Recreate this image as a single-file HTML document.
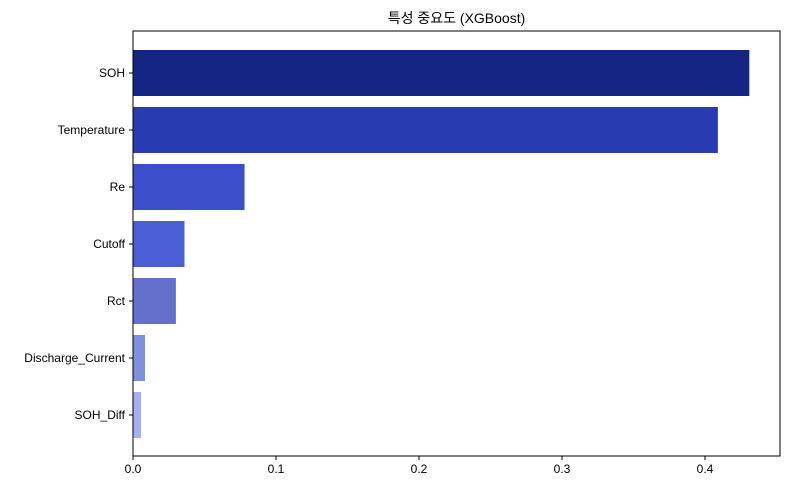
<!DOCTYPE html>
<html><head><meta charset="utf-8"><style>
body{margin:0;background:#fff;}
svg{font-family:"Liberation Sans","Noto Sans CJK KR",sans-serif;}
</style></head><body>
<svg id="chart" width="790" height="489" xmlns="http://www.w3.org/2000/svg"></svg>
<script>
const categories = ["SOH","Temperature","Re","Cutoff","Rct","Discharge_Current","SOH_Diff"];
const importances = [0.431,0.409,0.078,0.036,0.030,0.0084,0.0056];
const barColors = ["#142584","#283bb0","#3b4fcb","#4a5fd6","#6470cc","#8090e0","#a5b0f0"];
const xTicks = [0,0.1,0.2,0.3,0.4];
const xTickLabels = ["0.0","0.1","0.2","0.3","0.4"];

const svg = document.getElementById('chart');
const NS = 'http://www.w3.org/2000/svg';
const L=133, R=780, T=31, B=456;
const xs = v => L + v*1430;
const band = 57;
const yc = i => 73 + i*band;
function mk(tag, attrs, text){const e=document.createElementNS(NS,tag);for(const k in attrs)e.setAttribute(k,attrs[k]);if(text!==undefined)e.textContent=text;svg.appendChild(e);return e;}

let t = mk('text',{x:(L+R)/2,y:23,'text-anchor':'middle','font-size':14,fill:'#000'},'특성 중요도 (XGBoost)');



categories.forEach((c,i)=>{
  const h = 46;
  const r = mk('rect',{x:L,y:yc(i)-h/2,width:xs(importances[i])-L,height:h,fill:barColors[i]});
  
  
  mk('line',{x1:L-4,x2:L,y1:yc(i),y2:yc(i),stroke:'#000','stroke-width':1});
  const lb = mk('text',{x:L-8,y:yc(i)+4,'text-anchor':'end','font-size':12,fill:'#000'},c);
  
  
});
xTicks.forEach((v,i)=>{
  mk('line',{x1:xs(v),x2:xs(v),y1:B,y2:B+4,stroke:'#000','stroke-width':1});
  const lb = mk('text',{x:xs(v),y:B+17,'text-anchor':'middle','font-size':12,fill:'#000'},xTickLabels[i]);
  
  
});
const fr = mk('rect',{x:L,y:T,width:R-L,height:B-T,fill:'none',stroke:'#000','stroke-width':1});


</script>
</body></html>
